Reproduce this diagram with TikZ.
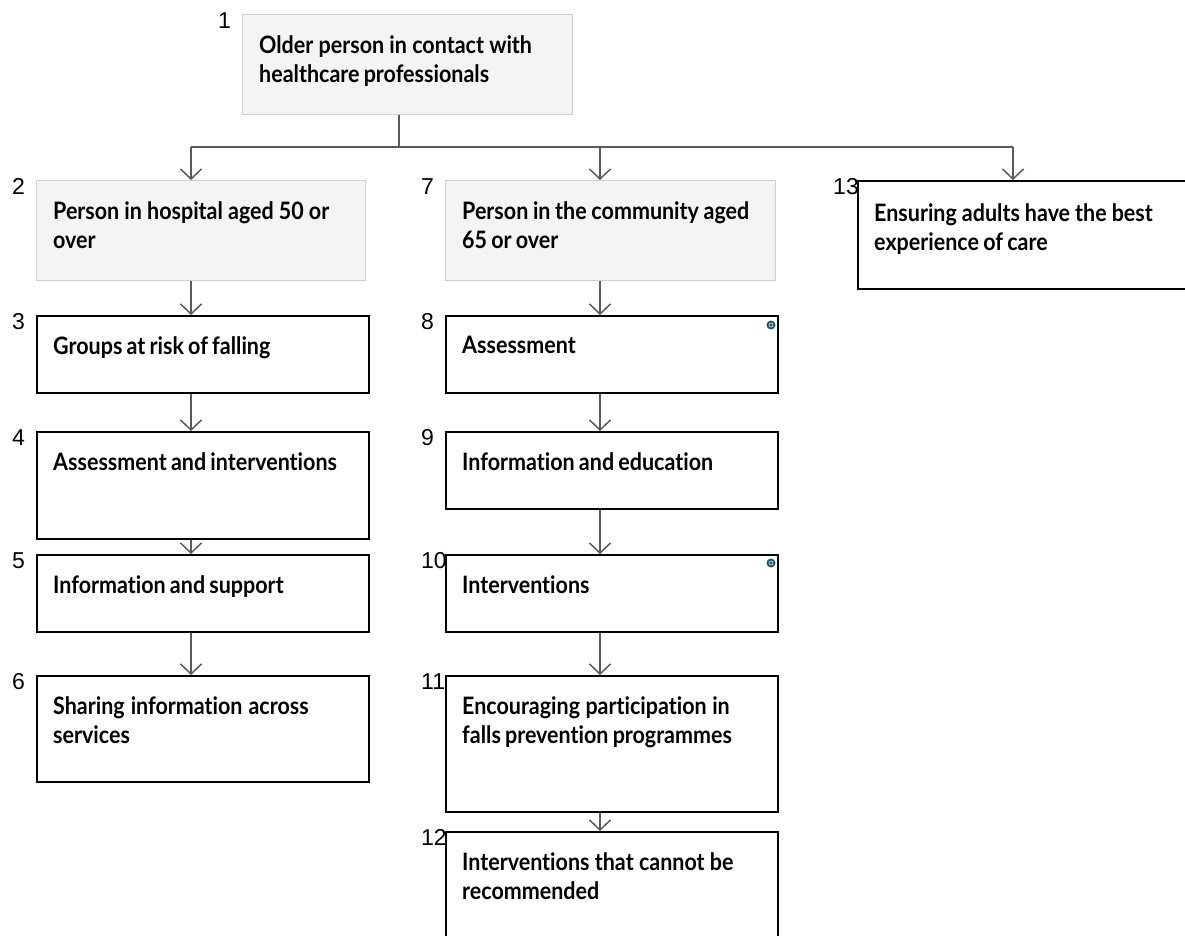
\documentclass[tikz,border=0pt]{standalone}
\usepackage{fontspec}
\setmainfont{Lato}[Ligatures=NoCommon, BoldFeatures={FakeStretch=0.895}]
\newfontfamily\numfont{Liberation Sans}
\usetikzlibrary{arrows.meta}
\hyphenpenalty=10000
\newcommand\tightwords{\spaceskip=4.2pt plus 2pt minus 1pt\relax}
\definecolor{boxgray}{HTML}{F4F4F4}
\definecolor{edgegray}{HTML}{CFCFCF}
\definecolor{linkgray}{HTML}{5A5A5A}
\definecolor{dotteal}{HTML}{1B5A66}
\tikzset{
  stage/.style={draw=black, line width=1.6pt, fill=white, anchor=north west, inner sep=0pt},
  entry/.style={stage, draw=edgegray, line width=0.9pt, fill=boxgray},
  txt/.style={anchor=north west, xshift=17pt, yshift=-21pt, inner sep=0pt,
    text width=298pt, align=left, execute at begin node=\tightwords,
    font=\bfseries\fontsize{24}{29}\selectfont},
  num/.style={anchor=north west, xshift=-24pt, yshift=1.5pt, inner sep=0pt,
    font=\numfont\fontsize{23}{23}\selectfont},
  link/.style={draw=linkgray, line width=1.5pt},
  arr/.style={link, -{Straight Barb[length=10pt,width=21pt]}},
  badge/.style={fill=dotteal}
}
\begin{document}
\begin{tikzpicture}[x=1pt, y=-1pt]
  \clip (0,0) rectangle (1185,936);
  \fill[white] (0,0) rectangle (1185,936);

  % top of the tree
  \node[entry, minimum width=330pt, minimum height=100pt,
    label={[txt]north west:Older person in contact with healthcare professionals},
    label={[num]north west:1}] (n1) at (242,14) {};

  % hospital column
  \node[entry, minimum width=329pt, minimum height=100pt,
    label={[txt]north west:Person in hospital aged 50 or over},
    label={[num]north west:2}] (n2) at (36,180) {};
  \node[stage, minimum width=332pt, minimum height=77pt,
    label={[txt]north west:Groups at risk of falling},
    label={[num]north west:3}] (n3) at (36,315) {};
  \node[stage, minimum width=332pt, minimum height=107pt,
    label={[txt]north west:Assessment and interventions},
    label={[num]north west:4}] (n4) at (36,431) {};
  \node[stage, minimum width=332pt, minimum height=77pt,
    label={[txt]north west:Information and support},
    label={[num]north west:5}] (n5) at (36,554) {};
  \node[stage, minimum width=332pt, minimum height=106pt,
    label={[txt]north west:Sharing information across services},
    label={[num]north west:6}] (n6) at (36,675) {};

  % community column
  \node[entry, minimum width=330pt, minimum height=100pt,
    label={[txt]north west:Person in the community aged 65 or over},
    label={[num]north west:7}] (n7) at (445,180) {};
  \node[stage, minimum width=332pt, minimum height=77pt,
    label={[txt]north west:Assessment},
    label={[num]north west:8}] (n8) at (445,315) {};
  \node[stage, minimum width=332pt, minimum height=77pt,
    label={[txt]north west:Information and education},
    label={[num]north west:9}] (n9) at (445,431) {};
  \node[stage, minimum width=332pt, minimum height=77pt,
    label={[txt]north west:Interventions},
    label={[num]north west:10}] (n10) at (445,554) {};
  \node[stage, minimum width=332pt, minimum height=136pt,
    label={[txt]north west:Encouraging participation in falls prevention programmes},
    label={[num]north west:11}] (n11) at (445,675) {};
  \node[stage, minimum width=332pt, minimum height=130pt,
    label={[txt]north west:Interventions that cannot be recommended},
    label={[num]north west:12}] (n12) at (445,831) {};

  % experience of care
  \node[stage, minimum width=345pt, minimum height=108pt,
    label={[txt, yshift=-2pt]north west:Ensuring adults have the best experience of care},
    label={[num]north west:13}] (n13) at (857,180) {};

  % small badges
  \fill[badge] (771,325) circle (4.5pt);
  \draw[white, line width=0.5pt] (771,325) circle (2pt);
  \fill[badge] (771,563) circle (4.5pt);
  \draw[white, line width=0.5pt] (771,563) circle (2pt);

  % connectors
  \coordinate (hub) at (399,147);
  \coordinate (colA) at (191,0);
  \coordinate (colB) at (600,0);
  \coordinate (colC) at (1013,0);
  \draw[link] (n1.south -| hub) -- (hub);
  \draw[link] (hub -| colA) -- (hub -| colC);
  \draw[arr] (hub -| colA) -- (n2.north -| colA);
  \draw[arr] (hub -| colB) -- (n7.north -| colB);
  \draw[arr] (hub -| colC) -- (n13.north -| colC);

  \draw[arr] (n2.south -| colA) -- (n3.north -| colA);
  \draw[arr] (n3.south -| colA) -- (n4.north -| colA);
  \draw[arr] (n4.south -| colA) -- (n5.north -| colA);
  \draw[arr] (n5.south -| colA) -- (n6.north -| colA);

  \draw[arr] (n7.south -| colB) -- (n8.north -| colB);
  \draw[arr] (n8.south -| colB) -- (n9.north -| colB);
  \draw[arr] (n9.south -| colB) -- (n10.north -| colB);
  \draw[arr] (n10.south -| colB) -- (n11.north -| colB);
  \draw[arr] (n11.south -| colB) -- (n12.north -| colB);
\end{tikzpicture}
\end{document}
